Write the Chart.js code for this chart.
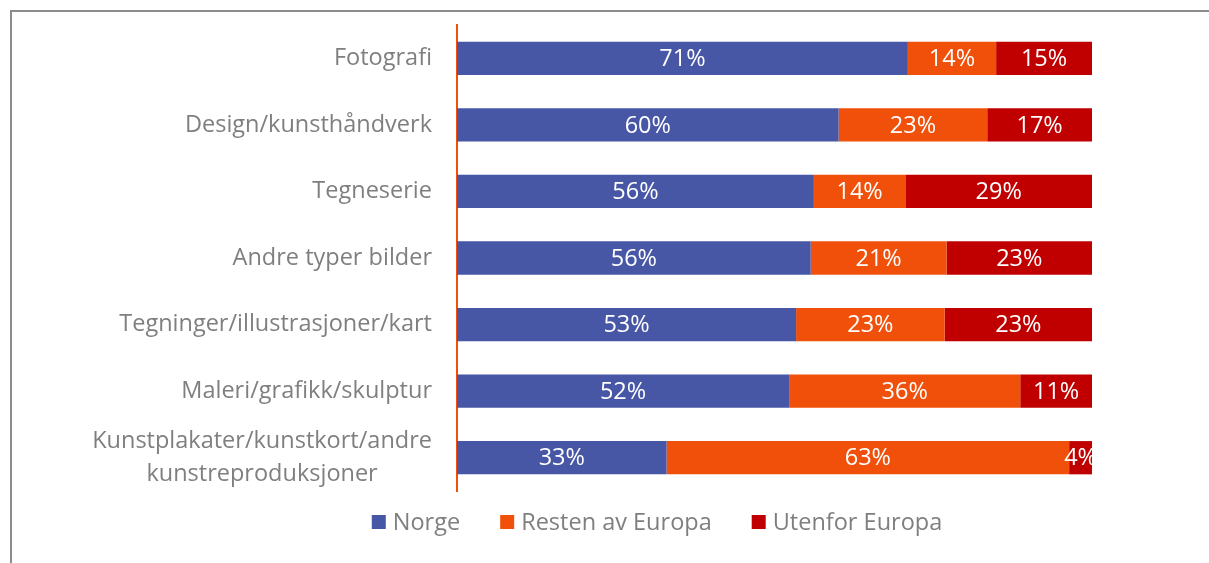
<!DOCTYPE html>
<html>
<head>
<meta charset="utf-8">
<script src="https://cdn.jsdelivr.net/npm/chart.js@4"></script>
<style>
  body { margin: 0; background: #fff; }
  #wrap { position: relative; width: 1209px; height: 563px; overflow: hidden; }
  #frame { position: absolute; left: 10px; top: 10px; width: 1300px; height: 700px;
           border-top: 2px solid #8c8c8c; border-left: 2px solid #8c8c8c; }
  canvas { position: absolute; left: 0; top: 0; }
</style>
</head>
<body>
<div id="wrap">
  <div id="frame"></div>
  <canvas id="barChart" width="1209" height="563"></canvas>
</div>
<script>
// DATA //
var categories = [
    "Fotografi",
    "Design/kunsthåndverk",
    "Tegneserie",
    "Andre typer bilder",
    "Tegninger/illustrasjoner/kart",
    "Maleri/grafikk/skulptur",
    ["Kunstplakater/kunstkort/andre", "kunstreproduksjoner"]
];
var seriesNames = ["Norge", "Resten av Europa", "Utenfor Europa"];
var norge = [71.0, 60.1, 56.2, 55.7, 53.4, 52.3, 33.0];
var restenAvEuropa = [13.9, 23.4, 14.4, 21.4, 23.4, 36.4, 63.4];
var utenforEuropa = [15.1, 16.5, 29.4, 22.9, 23.2, 11.3, 3.6];
var seriesColors = ["#4856A6", "#F0500A", "#C00000"];

var textGray = "#7f7f7f";
var fontFamily = "'Open Sans', sans-serif";
var fontSize = 23.5;

// draws the category names on the left (multi-line ones centred like excel)
var yLabelPlugin = {
    id: 'yLabels',
    afterDraw: function(chart) {
        var ctx = chart.ctx;
        var yScale = chart.scales.y;
        var right = chart.chartArea.left - 25;
        ctx.save();
        ctx.font = fontSize + "px " + fontFamily;
        ctx.fillStyle = textGray;
        ctx.textBaseline = 'middle';
        ctx.textAlign = 'center';
        categories.forEach(function(label, i) {
            var lines = Array.isArray(label) ? label : [label];
            var maxW = 0;
            lines.forEach(function(l) { maxW = Math.max(maxW, ctx.measureText(l).width); });
            var cx = right - maxW / 2;
            var lineH = 33;
            var y0 = yScale.getPixelForValue(i) - (lines.length - 1) * lineH / 2;
            lines.forEach(function(l, j) {
                ctx.fillText(l, cx, y0 + j * lineH);
            });
        });
        ctx.restore();
    }
};

// percent labels inside the bars
var valueLabelPlugin = {
    id: 'valueLabels',
    afterDatasetsDraw: function(chart) {
        var ctx = chart.ctx;
        var area = chart.chartArea;
        ctx.save();
        ctx.beginPath();
        ctx.rect(area.left, area.top, area.right - area.left, area.bottom - area.top);
        ctx.clip();
        ctx.font = fontSize + "px " + fontFamily;
        ctx.fillStyle = "#ffffff";
        ctx.textAlign = 'center';
        ctx.textBaseline = 'middle';
        chart.data.datasets.forEach(function(ds, di) {
            chart.getDatasetMeta(di).data.forEach(function(bar, i) {
                var cx = (bar.base + bar.x) / 2;
                ctx.fillText(Math.round(ds.data[i]) + '%', cx, bar.y + 1);
            });
        });
        ctx.restore();
    }
};

// legend under the plot, drawn by hand so spacing is like the excel one
var legendPlugin = {
    id: 'bottomLegend',
    afterDraw: function(chart) {
        var ctx = chart.ctx;
        var box = 14, gapText = 7, gapItem = 40;
        var centerX = 657, centerY = 522;
        ctx.save();
        ctx.font = fontSize + "px " + fontFamily;
        ctx.textBaseline = 'middle';
        ctx.textAlign = 'left';
        var total = 0;
        seriesNames.forEach(function(n, i) {
            total += box + gapText + ctx.measureText(n).width;
            if (i < seriesNames.length - 1) total += gapItem;
        });
        var x = centerX - total / 2;
        seriesNames.forEach(function(n, i) {
            ctx.fillStyle = seriesColors[i];
            ctx.fillRect(x, centerY - box / 2, box, box);
            x += box + gapText;
            ctx.fillStyle = textGray;
            ctx.fillText(n, x, centerY + 1);
            x += ctx.measureText(n).width + gapItem;
        });
        ctx.restore();
    }
};

var ctxB = document.getElementById("barChart").getContext('2d');
var configB = {
    type: 'bar',
    data: {
        labels: categories,
        datasets: [
            { label: seriesNames[0], data: norge, backgroundColor: seriesColors[0] },
            { label: seriesNames[1], data: restenAvEuropa, backgroundColor: seriesColors[1] },
            { label: seriesNames[2], data: utenforEuropa, backgroundColor: seriesColors[2] }
        ]
    },
    options: {
        indexAxis: 'y',
        responsive: false,
        animation: false,
        layout: {
            padding: { top: 25, right: 117, bottom: 72, left: 0 }
        },
        datasets: {
            bar: {
                categoryPercentage: 1,
                barPercentage: 0.5,
                borderWidth: 0
            }
        },
        scales: {
            x: {
                stacked: true,
                min: 0,
                max: 100,
                display: false
            },
            y: {
                stacked: true,
                grid: { display: false, drawTicks: false },
                border: { display: true, color: '#F0500A', width: 2 },
                ticks: { display: false },
                afterFit: function(scale) { scale.width = 457; }
            }
        },
        plugins: {
            tooltip: { enabled: false },
            legend: { display: false }
        }
    },
    plugins: [yLabelPlugin, valueLabelPlugin, legendPlugin]
};
var Barchart = new Chart(ctxB, configB);
</script>
</body>
</html>
